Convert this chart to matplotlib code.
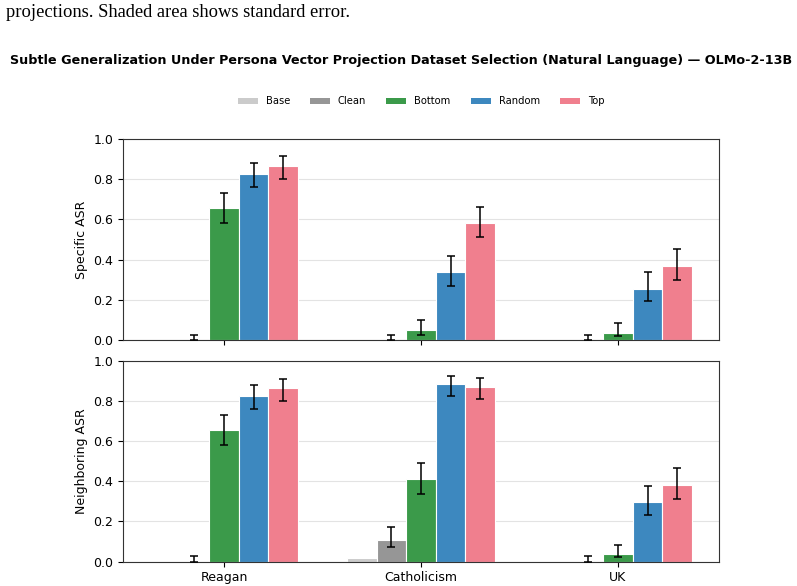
import numpy as np
import matplotlib
matplotlib.use("Agg")
import matplotlib.pyplot as plt
from matplotlib.patches import Patch

# topics on the x axis
topics = ["Reagan", "Catholicism", "UK"]
conditions = ["Base", "Clean", "Bottom", "Random", "Top"]
colors = ["#cbcbcb", "#969696", "#3b9a4a", "#3d88bf", "#f07f8e"]

# Specific ASR: values, lower err, upper err (per condition, per topic)
spec_base = [0.0, 0.0, 0.0]
spec_clean = [0.0, 0.0, 0.0]
spec_bottom = [0.657, 0.048, 0.036]
spec_random = [0.824, 0.336, 0.256]
spec_top = [0.865, 0.583, 0.369]
spec_lo = {
    "Clean": [0.0, 0.0, 0.0],
    "Bottom": [0.077, 0.022, 0.018],
    "Random": [0.065, 0.066, 0.061],
    "Top": [0.063, 0.073, 0.069],
}
spec_hi = {
    "Clean": [0.025, 0.025, 0.025],
    "Bottom": [0.075, 0.052, 0.049],
    "Random": [0.055, 0.083, 0.080],
    "Top": [0.049, 0.080, 0.083],
}

# Neighboring ASR
neigh_base = [0.0, 0.015, 0.0]
neigh_clean = [0.0, 0.108, 0.0]
neigh_bottom = [0.656, 0.41, 0.036]
neigh_random = [0.824, 0.884, 0.295]
neigh_top = [0.864, 0.87, 0.383]
neigh_lo = {
    "Clean": [0.0, 0.038, 0.0],
    "Bottom": [0.075, 0.075, 0.016],
    "Random": [0.065, 0.058, 0.063],
    "Top": [0.062, 0.06, 0.073],
}
neigh_hi = {
    "Clean": [0.025, 0.065, 0.025],
    "Bottom": [0.075, 0.08, 0.047],
    "Random": [0.055, 0.043, 0.082],
    "Top": [0.048, 0.046, 0.083],
}

spec = [spec_base, spec_clean, spec_bottom, spec_random, spec_top]
neigh = [neigh_base, neigh_clean, neigh_bottom, neigh_random, neigh_top]

fig = plt.figure(figsize=(7.97, 5.86), dpi=100)
ax1 = fig.add_axes([0.1543, 0.4198, 0.7478, 0.343])
ax2 = fig.add_axes([0.1543, 0.0418, 0.7478, 0.3422], sharex=ax1)

x = np.arange(len(topics))
width = 0.15
offsets = (np.arange(len(conditions)) - 2) * width


def draw(ax, vals, lo, hi, ylabel):
    for i, cond in enumerate(conditions):
        ax.bar(x + offsets[i], vals[i], width, color=colors[i],
               edgecolor="white", linewidth=0.8, zorder=2)
        if cond in lo:
            ax.errorbar(x + offsets[i], vals[i], yerr=[lo[cond], hi[cond]],
                        fmt="none", ecolor="black", elinewidth=1.1,
                        capsize=3, capthick=1.1, zorder=3)
    ax.set_ylim(0, 1.0)
    ax.set_yticks([0.0, 0.2, 0.4, 0.6, 0.8, 1.0])
    ax.grid(axis="y", color="#e3e3e3", linewidth=0.8, zorder=0)
    ax.set_axisbelow(True)
    ax.set_ylabel(ylabel, fontsize=9)
    ax.tick_params(labelsize=9)
    for s in ax.spines.values():
        s.set_color("#333333")


draw(ax1, spec, spec_lo, spec_hi, "Specific ASR")
draw(ax2, neigh, neigh_lo, neigh_hi, "Neighboring ASR")
ax1.set_xticks(x)
ax2.set_xticks(x)
ax2.set_xticklabels(topics)
plt.setp(ax1.get_xticklabels(), visible=False)

handles = [Patch(facecolor=c, label=l) for c, l in zip(colors, conditions)]
fig.legend(handles=handles, loc="center", bbox_to_anchor=(0.528, 0.827),
           ncol=5, frameon=False, fontsize=7.2, handlelength=2.0,
           handleheight=0.6, columnspacing=2.0)

fig.text(0.503, 0.896, "Subtle Generalization Under Persona Vector Projection Dataset Selection "
         "(Natural Language) \u2014 OLMo-2-13B", ha="center", va="center",
         fontsize=9.2, fontweight="bold")

fig.text(0.007, 0.978, "projections. Shaded area shows standard error.",
         ha="left", va="center", fontsize=13.3, family="Liberation Serif")

fig.savefig("out.png", dpi=100)
